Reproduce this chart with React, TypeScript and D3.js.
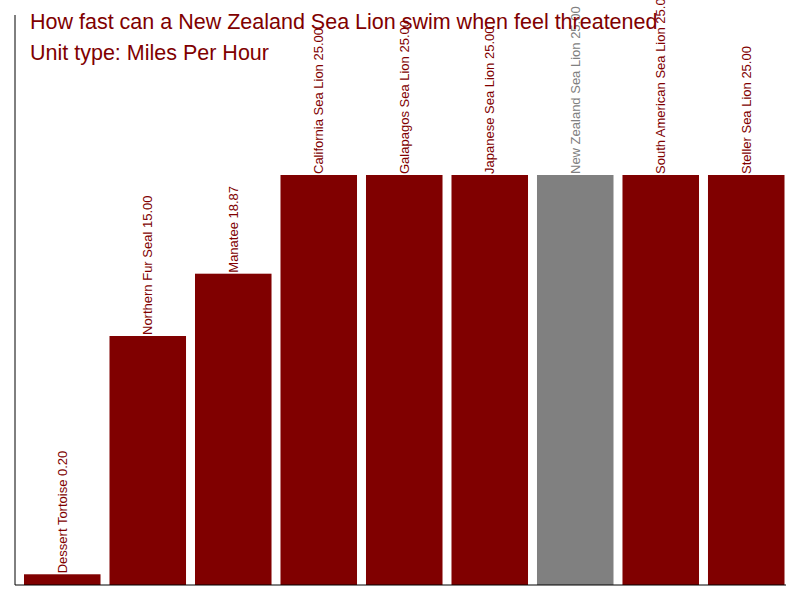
import React, { useRef, useEffect } from 'react';
import * as d3 from 'd3';

const animals = [
    'Dessert Tortoise',
    'Northern Fur Seal',
    'Manatee',
    'California Sea Lion',
    'Galapagos Sea Lion',
    'Japanese Sea Lion',
    'New Zealand Sea Lion',
    'South American Sea Lion',
    'Steller Sea Lion',
];
const speeds = [0.2, 15, 18.87, 25, 25, 25, 25, 25, 25];
const highlight = 'New Zealand Sea Lion';
const titleLines = [
    'How fast can a New Zealand Sea Lion swim when feel threatened',
    'Unit type: Miles Per Hour',
];

const App: React.FC = () => {
    const svgRef = useRef<SVGSVGElement>(null);

    useEffect(() => {
        const margin = { top: 15, right: 15, bottom: 15, left: 15 };
        const width = 800 - margin.left - margin.right;
        const height = 600 - margin.top - margin.bottom;

        const data = animals.map((name, i) => ({ name, value: speeds[i] }));

        const x = d3.scaleBand<string>()
            .domain(animals)
            .range([9, 769.5])
            .paddingInner(0.105)
            .paddingOuter(0);

        const y = d3.scaleLinear()
            .domain([0, 25])
            .range([562.5, 160]);

        const svg = d3.select(svgRef.current);
        svg.selectAll('*').remove();

        const g = svg.append('g')
            .attr('transform', `translate(${margin.left},${margin.top})`);

        // bars
        g.selectAll('rect.bar')
            .data(data)
            .enter()
            .append('rect')
            .attr('class', 'bar')
            .attr('x', d => x(d.name) || 0)
            .attr('y', d => y(d.value))
            .attr('width', x.bandwidth())
            .attr('height', d => height - y(d.value))
            .attr('fill', d => (d.name === highlight ? '#808080' : '#800000'));

        // vertical labels
        g.selectAll('text.label')
            .data(data)
            .enter()
            .append('text')
            .attr('class', 'label')
            .attr('transform', d => `translate(${(x(d.name) || 0) + x.bandwidth() / 2},${y(d.value) - 1}) rotate(-90)`)
            .attr('dy', '0.35em')
            .attr('text-anchor', 'start')
            .attr('font-family', 'Arial, "Liberation Sans", sans-serif')
            .attr('font-size', 13)
            .attr('fill', d => (d.name === highlight ? '#808080' : '#800000'))
            .text(d => `${d.name} ${d.value.toFixed(2)}`);

        // axes lines
        g.append('line')
            .attr('x1', 0).attr('x2', 0)
            .attr('y1', 0).attr('y2', height)
            .attr('stroke', '#000');
        g.append('line')
            .attr('x1', 0).attr('x2', width + 1)
            .attr('y1', height).attr('y2', height)
            .attr('stroke', '#000');

        // title
        svg.selectAll('text.title')
            .data(titleLines)
            .enter()
            .append('text')
            .attr('class', 'title')
            .attr('x', 30)
            .attr('y', (_, i) => 29 + i * 31)
            .attr('font-family', 'Arial, "Liberation Sans", sans-serif')
            .attr('font-size', 21.5)
            .attr('fill', '#800000')
            .text(d => d);
    }, []);

    return (
        <svg ref={svgRef} width={800} height={600} style={{ position: 'absolute', left: 0, top: 0 }}></svg>
    );
};

export default App;
